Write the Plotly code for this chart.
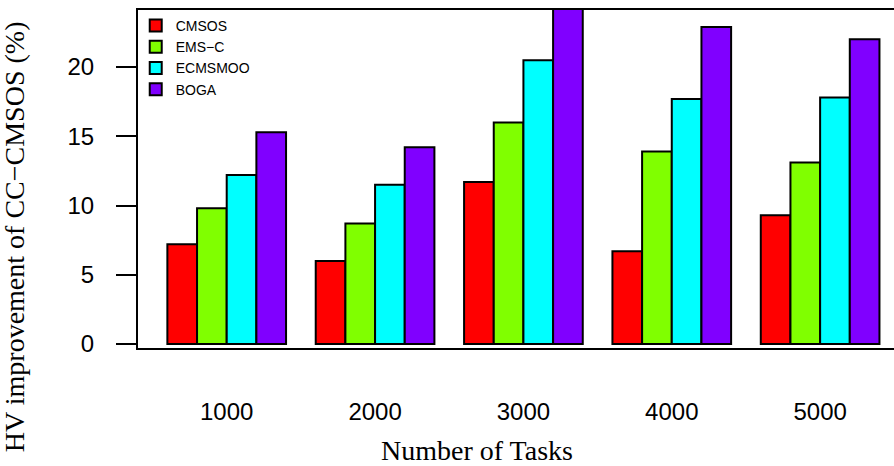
import plotly.graph_objects as go

categories = ["1000", "2000", "3000", "4000", "5000"]
series_names = ["CMSOS", "EMS\u2212C", "ECMSMOO", "BOGA"]
cmsos = [7.2, 6.0, 11.7, 6.7, 9.3]
ems_c = [9.8, 8.7, 16.0, 13.9, 13.1]
ecmsmoo = [12.2, 11.5, 20.5, 17.7, 17.8]
boga = [15.3, 14.2, 25.5, 22.9, 22.0]
y_ticks = [0, 5, 10, 15, 20]

colors = ["#FF0000", "#80FF00", "#00FFFF", "#8000FF"]
series_values = [cmsos, ems_c, ecmsmoo, boga]

fig = go.Figure()
for name, vals, col in zip(series_names, series_values, colors):
    fig.add_trace(go.Bar(
        x=categories, y=vals, name=name,
        marker=dict(color=col, line=dict(color="black", width=2)),
    ))

fig.update_layout(
    width=894, height=466,
    margin=dict(l=138, r=0, t=10, b=118),
    paper_bgcolor="white", plot_bgcolor="white",
    barmode="group", bargap=0.2, bargroupgap=0,
    showlegend=True,
    legend=dict(
        x=-0.003, y=1.0, xanchor="left", yanchor="top",
        bgcolor="rgba(0,0,0,0)", borderwidth=0,
        font=dict(family="Liberation Sans, Arial", size=14, color="black"),
        itemwidth=30, tracegroupgap=0,
    ),
    xaxis=dict(
        type="category", range=[-0.598, 4.498],
        showline=True, linecolor="black", linewidth=2, mirror=True,
        ticks="", showgrid=False, zeroline=False,
        tickfont=dict(family="Liberation Sans, Arial", size=24, color="black"),
        ticklabelstandoff=41,
    ),
    yaxis=dict(
        range=[-0.29, 24.12],
        tickvals=y_ticks, ticktext=[str(v) for v in y_ticks],
        showline=True, linecolor="black", linewidth=2, mirror=False,
        ticks="outside", ticklen=20, tickwidth=2, tickcolor="black",
        showgrid=False, zeroline=False,
        tickfont=dict(family="Liberation Sans, Arial", size=24, color="black"),
        ticklabelstandoff=17,
    ),
    annotations=[
        dict(text="Number of Tasks", xref="paper", yref="paper",
             x=0.448, y=-0.302, xanchor="center", yanchor="middle",
             showarrow=False,
             font=dict(family="Liberation Serif, Times New Roman", size=28, color="black")),
        dict(text="HV improvement of CC\u2212CMSOS (%)", xref="paper", yref="paper",
             x=-0.164, y=0.328, xanchor="center", yanchor="middle",
             textangle=-90, showarrow=False,
             font=dict(family="Liberation Serif, Times New Roman", size=28, color="black")),
    ],
)

fig.write_html("out.html", config={"displayModeBar": False},
               post_script="document.body.style.margin='0';")
